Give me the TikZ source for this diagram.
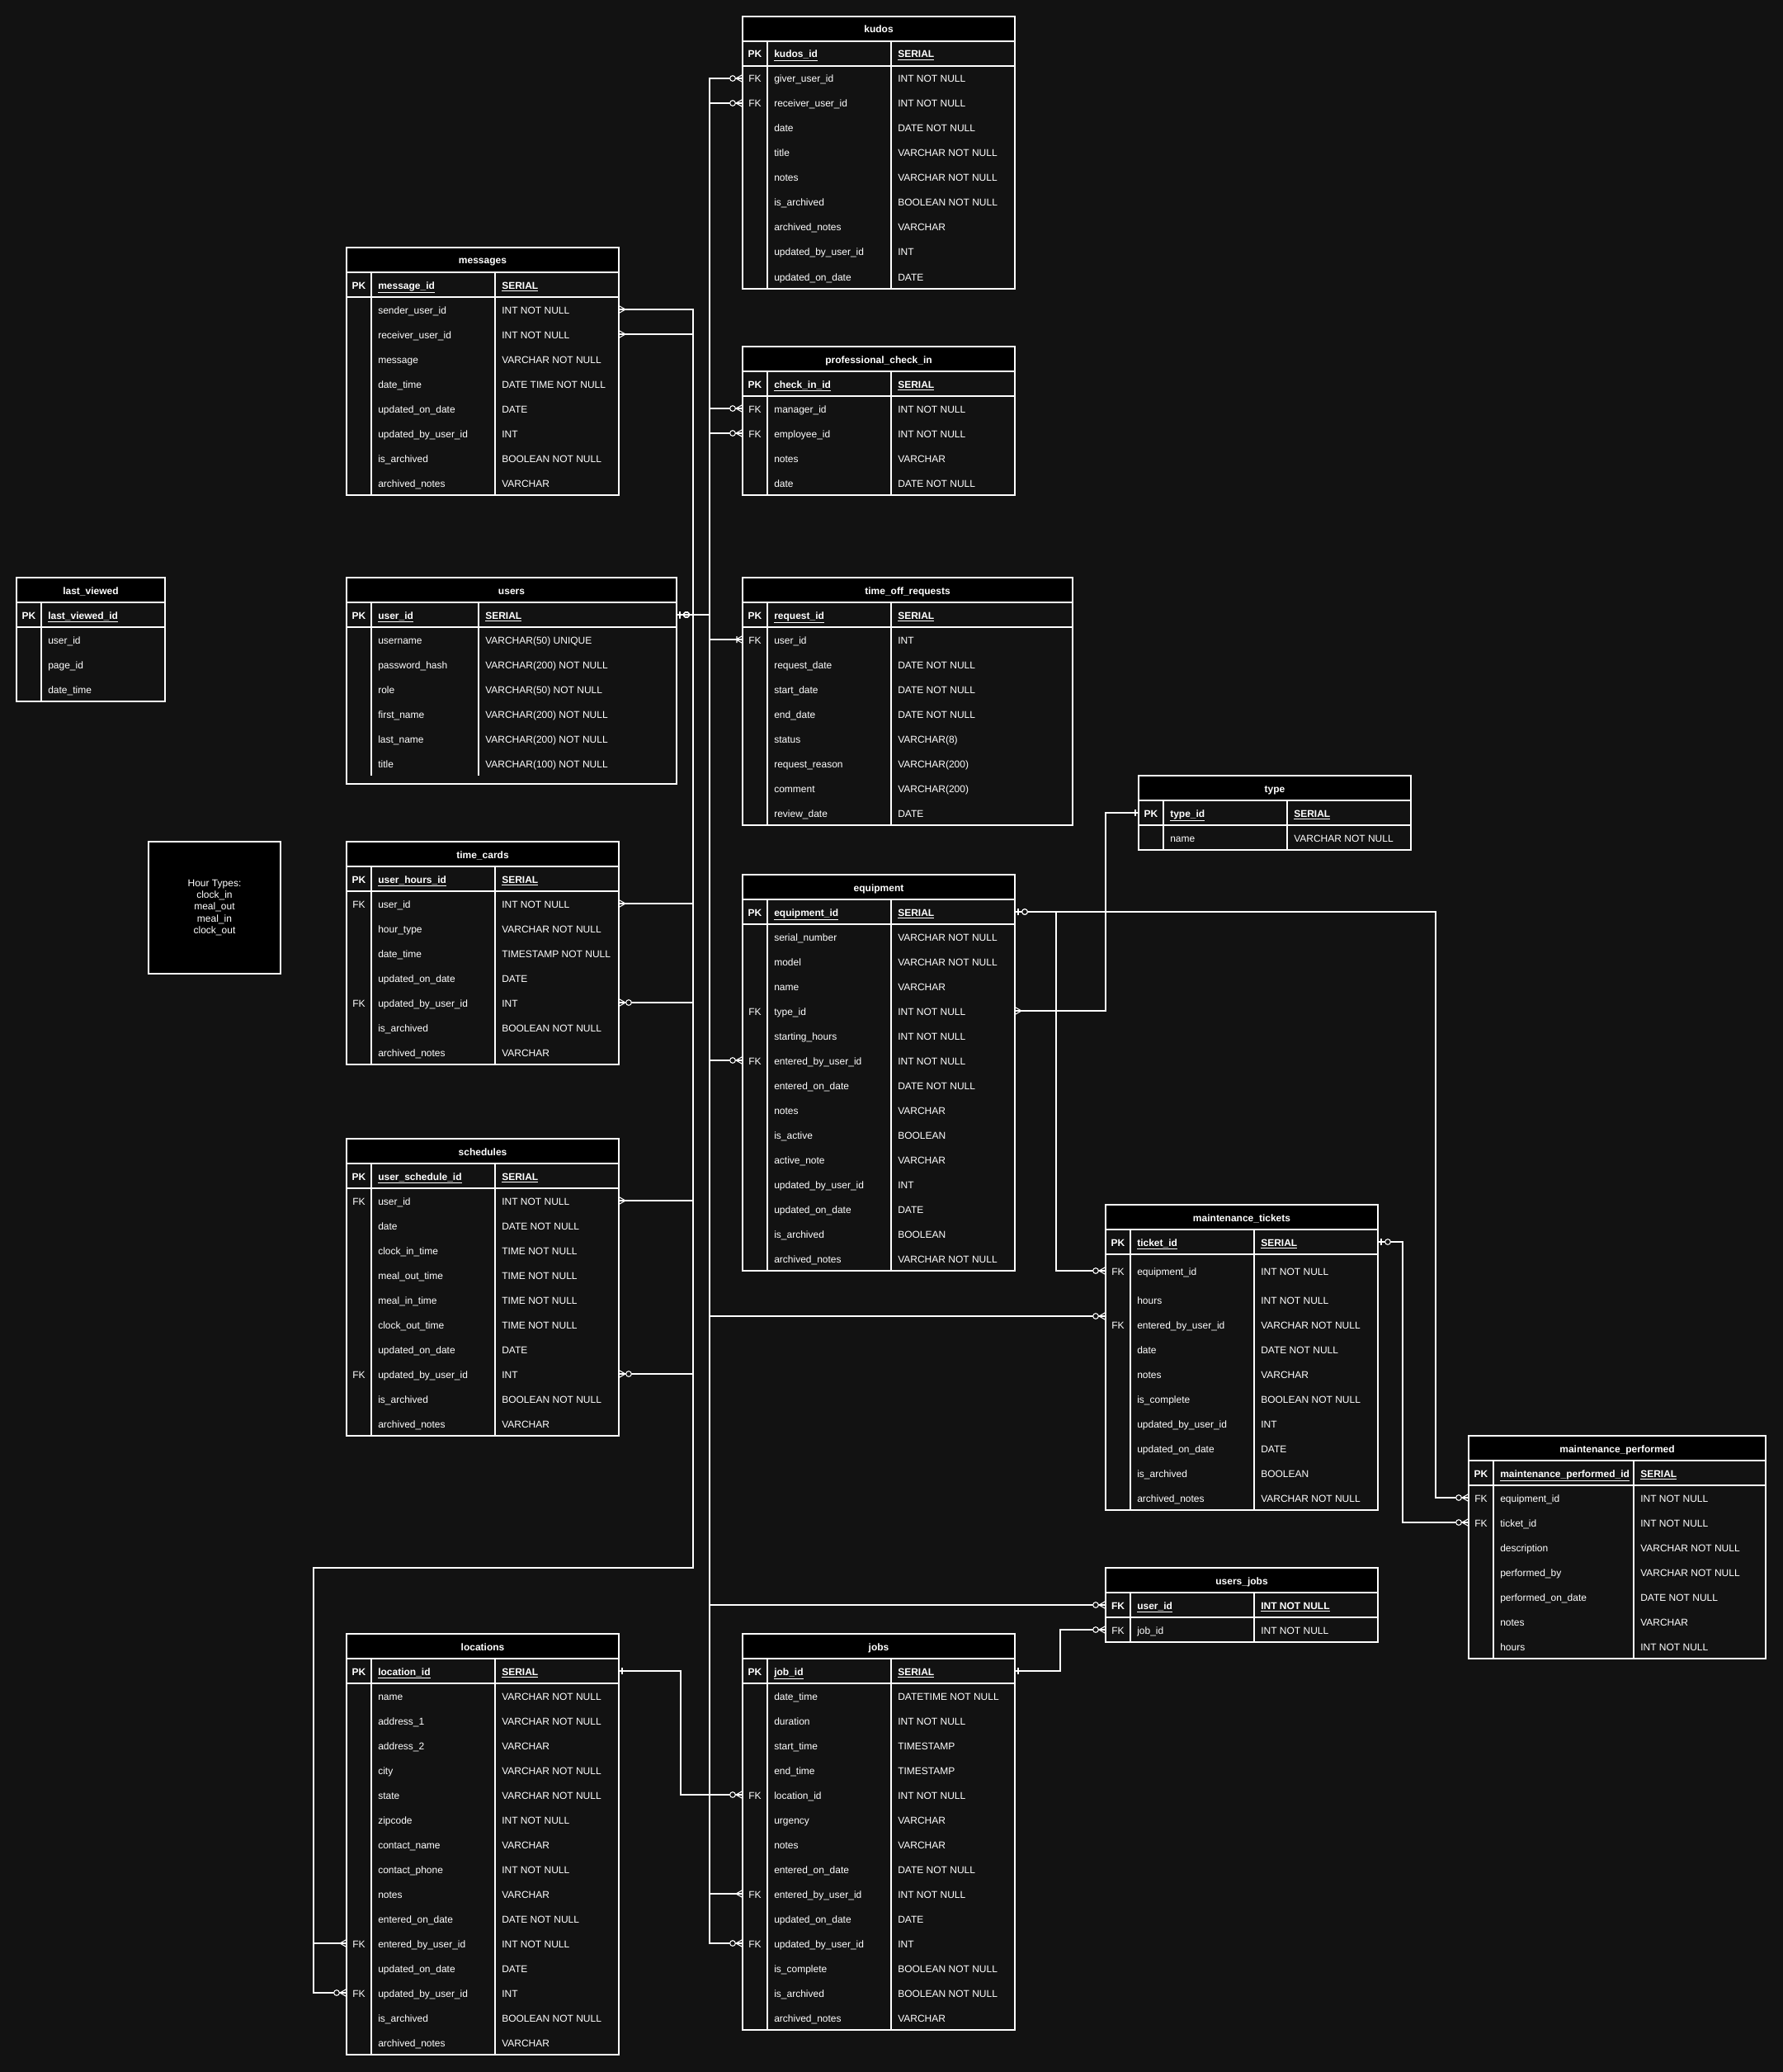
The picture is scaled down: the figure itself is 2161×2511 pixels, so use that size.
\documentclass[tikz,border=0pt]{standalone}
\usepackage{fontspec}
\setmainfont{Liberation Sans}
\usepackage{tikz}

\definecolor{bgc}{HTML}{121212}
\definecolor{ink}{HTML}{FFFFFF}

% ER line ends, the tip sits on the table border
\pgfdeclarearrow{
  name = ermany,
  setup code = {\pgfarrowssettipend{0pt}\pgfarrowssetlineend{0pt}\pgfarrowssetbackend{-6pt}
    \pgfarrowshullpoint{0pt}{3.4pt}\pgfarrowshullpoint{0pt}{-3.4pt}\pgfarrowshullpoint{-6pt}{0pt}},
  drawing code = {\pgfsetdash{}{0pt}\pgfsetroundjoin
    \pgfpathmoveto{\pgfqpoint{0pt}{3.4pt}}\pgfpathlineto{\pgfqpoint{-6pt}{0pt}}\pgfpathlineto{\pgfqpoint{0pt}{-3.4pt}}
    \pgfusepathqstroke}
}
\pgfdeclarearrow{
  name = erzmany,
  setup code = {\pgfarrowssettipend{0pt}\pgfarrowssetlineend{0pt}\pgfarrowssetbackend{-11.5pt}
    \pgfarrowshullpoint{0pt}{3.4pt}\pgfarrowshullpoint{0pt}{-3.4pt}\pgfarrowshullpoint{-11.5pt}{0pt}},
  drawing code = {\pgfsetdash{}{0pt}\pgfsetroundjoin
    \pgfpathmoveto{\pgfqpoint{0pt}{3.4pt}}\pgfpathlineto{\pgfqpoint{-6pt}{0pt}}\pgfpathlineto{\pgfqpoint{0pt}{-3.4pt}}
    \pgfusepathqstroke
    \pgfpathcircle{\pgfqpoint{-9pt}{0pt}}{2.5pt}\pgfsetfillcolor{bgc}\pgfusepathqfillstroke}
}
\pgfdeclarearrow{
  name = eronemany,
  setup code = {\pgfarrowssettipend{0pt}\pgfarrowssetlineend{0pt}\pgfarrowssetbackend{-6pt}
    \pgfarrowshullpoint{0pt}{3.4pt}\pgfarrowshullpoint{0pt}{-3.4pt}\pgfarrowshullpoint{-6pt}{0pt}},
  drawing code = {\pgfsetdash{}{0pt}\pgfsetroundjoin
    \pgfpathmoveto{\pgfqpoint{0pt}{3.4pt}}\pgfpathlineto{\pgfqpoint{-6pt}{0pt}}\pgfpathlineto{\pgfqpoint{0pt}{-3.4pt}}
    \pgfpathmoveto{\pgfqpoint{-5.25pt}{3pt}}\pgfpathlineto{\pgfqpoint{-5.25pt}{-3pt}}
    \pgfusepathqstroke}
}
\pgfdeclarearrow{
  name = erone,
  setup code = {\pgfarrowssettipend{0pt}\pgfarrowssetlineend{0pt}\pgfarrowssetbackend{-3pt}
    \pgfarrowshullpoint{0pt}{3pt}\pgfarrowshullpoint{-3pt}{-3pt}},
  drawing code = {\pgfsetdash{}{0pt}
    \pgfpathmoveto{\pgfqpoint{-3pt}{3pt}}\pgfpathlineto{\pgfqpoint{-3pt}{-3pt}}
    \pgfusepathqstroke}
}
\pgfdeclarearrow{
  name = erzone,
  setup code = {\pgfarrowssettipend{0pt}\pgfarrowssetlineend{0pt}\pgfarrowssetbackend{-11.5pt}
    \pgfarrowshullpoint{0pt}{3pt}\pgfarrowshullpoint{-11.5pt}{-3pt}},
  drawing code = {\pgfsetdash{}{0pt}
    \pgfpathmoveto{\pgfqpoint{-3pt}{3pt}}\pgfpathlineto{\pgfqpoint{-3pt}{-3pt}}
    \pgfusepathqstroke
    \pgfpathcircle{\pgfqpoint{-9pt}{0pt}}{2.5pt}\pgfsetfillcolor{bgc}\pgfusepathqfillstroke}
}
\pgfdeclarearrow{
  name = erzonex,
  setup code = {\pgfarrowssettipend{0pt}\pgfarrowssetlineend{0pt}\pgfarrowssetbackend{-11.5pt}
    \pgfarrowshullpoint{0pt}{3pt}\pgfarrowshullpoint{-11.5pt}{-3pt}},
  drawing code = {\pgfsetdash{}{0pt}
    \pgfpathmoveto{\pgfqpoint{-3pt}{3pt}}\pgfpathlineto{\pgfqpoint{-3pt}{-3pt}}
    \pgfpathcircle{\pgfqpoint{-9pt}{0pt}}{2.5pt}
    \pgfusepathqstroke}
}

\tikzset{er/.cd, gap/.store in=\ergap, pad/.store in=\erpad, gap=0, pad=0}
\tikzset{
  tabline/.style={ink, line width=0.8pt},
  tabtitle/.style={anchor=base, inner sep=0pt, font=\fontsize{9}{10.8}\selectfont\bfseries},
  tabrow/.style={inner sep=0pt, outer sep=0pt},
  keytext/.style={anchor=base, inner sep=0pt},
  celltext/.style={anchor=base west, inner sep=0pt},
  link/.style={ink, line width=0.8pt},
  notebox/.style={draw=ink, fill=black, line width=0.8pt, minimum size=120pt, inner sep=0pt, align=center}
}

% \ertable[gap/pad]{id}{x}{y}{name col}{type col}{title}{key/name/type rows}
\newcommand{\ertable}[8][]{%
  \tikzset{er/.cd, gap=0, pad=0, #1}%
  \pgfmathsetmacro\erw{30+#5+#6}%
  \fill[black] (#3,#4) rectangle ++(\erw,30);
  \node[tabtitle] (#2) at (#3+\erw/2,#4+20) {#7};
  \foreach \ky/\nm/\ty [count=\i from 0] in {#8} {
    \pgfmathsetmacro\ry{#4+45+30*\i+(\i>0)*\ergap-(\i==1)*\ergap/2}
    \pgfmathsetmacro\rh{30+(\i==1)*\ergap}
    \node[tabrow, minimum width=\erw*0.75pt, minimum height=\rh*0.75pt] (#2-\i) at (#3+\erw/2,\ry) {};
    \node[keytext] (#2-k\i) at (#3+15,\ry+5) {\ifnum\i=0 \bfseries\fi\ky};
    \node[celltext] (#2-n\i) at (#3+38,\ry+5) {\ifnum\i=0 \underline{\textbf{\nm}}\else\nm\fi};
    \node[celltext] (#2-t\i) at (#3+38+#5,\ry+5) {\ifnum\i=0 \underline{\textbf{\ty}}\else\ty\fi};
    \xdef\ern{\i}
  }
  \pgfmathsetmacro\erb{#4+60+30*\ern+\ergap}
  \draw[tabline] (#3,#4) rectangle (#3+\erw,\erb+\erpad);
  \draw[tabline] (#3,#4+30) -- ++(\erw,0) (#3,#4+60) -- ++(\erw,0);
  \draw[tabline] (#3+30,#4+30) -- (#3+30,\erb);
  \ifdim#6pt>0pt \draw[tabline] (#3+30+#5,#4+30) -- (#3+30+#5,\erb);\fi
}

\begin{document}
\begin{tikzpicture}[x=0.75pt, y=-0.75pt,
  every node/.append style={font=\fontsize{9}{10.8}\selectfont, text=ink}]

\fill[bgc] (0,0) rectangle (2161,2511);

% tables
\ertable{kudos}{900}{20}{150}{150}{kudos}{PK/kudos\_id/SERIAL,
  FK/giver\_user\_id/INT NOT NULL, FK/receiver\_user\_id/INT NOT NULL, /date/DATE NOT NULL,
  /title/VARCHAR NOT NULL, /notes/VARCHAR NOT NULL, /is\_archived/BOOLEAN NOT NULL,
  /archived\_notes/VARCHAR, /updated\_by\_user\_id/INT, /updated\_on\_date/DATE}

\ertable{messages}{420}{300}{150}{150}{messages}{PK/message\_id/SERIAL,
  /sender\_user\_id/INT NOT NULL, /receiver\_user\_id/INT NOT NULL, /message/VARCHAR NOT NULL,
  /date\_time/DATE TIME NOT NULL, /updated\_on\_date/DATE, /updated\_by\_user\_id/INT,
  /is\_archived/BOOLEAN NOT NULL, /archived\_notes/VARCHAR}

\ertable{checkin}{900}{420}{150}{150}{professional\_check\_in}{PK/check\_in\_id/SERIAL,
  FK/manager\_id/INT NOT NULL, FK/employee\_id/INT NOT NULL, /notes/VARCHAR, /date/DATE NOT NULL}

\ertable{lastviewed}{20}{700}{150}{0}{last\_viewed}{PK/last\_viewed\_id/,
  /user\_id/, /page\_id/, /date\_time/}

\ertable[pad=10]{users}{420}{700}{130}{240}{users}{PK/user\_id/SERIAL,
  /username/VARCHAR(50) UNIQUE, /password\_hash/VARCHAR(200) NOT NULL, /role/VARCHAR(50) NOT NULL,
  /first\_name/VARCHAR(200) NOT NULL, /last\_name/VARCHAR(200) NOT NULL, /title/VARCHAR(100) NOT NULL}

\ertable{timeoff}{900}{700}{150}{220}{time\_off\_requests}{PK/request\_id/SERIAL,
  FK/user\_id/INT, /request\_date/DATE NOT NULL, /start\_date/DATE NOT NULL, /end\_date/DATE NOT NULL,
  /status/VARCHAR(8), /request\_reason/VARCHAR(200), /comment/VARCHAR(200), /review\_date/DATE}

\ertable{type}{1380}{940}{150}{150}{type}{PK/type\_id/SERIAL, /name/VARCHAR NOT NULL}

\node[notebox] (hourtypes) at (260,1100) {Hour Types:\\clock\_in\\meal\_out\\meal\_in\\clock\_out};

\ertable{timecards}{420}{1020}{150}{150}{time\_cards}{PK/user\_hours\_id/SERIAL,
  FK/user\_id/INT NOT NULL, /hour\_type/VARCHAR NOT NULL, /date\_time/TIMESTAMP NOT NULL,
  /updated\_on\_date/DATE, FK/updated\_by\_user\_id/INT, /is\_archived/BOOLEAN NOT NULL,
  /archived\_notes/VARCHAR}

\ertable{equipment}{900}{1060}{150}{150}{equipment}{PK/equipment\_id/SERIAL,
  /serial\_number/VARCHAR NOT NULL, /model/VARCHAR NOT NULL, /name/VARCHAR, FK/type\_id/INT NOT NULL,
  /starting\_hours/INT NOT NULL, FK/entered\_by\_user\_id/INT NOT NULL, /entered\_on\_date/DATE NOT NULL,
  /notes/VARCHAR, /is\_active/BOOLEAN, /active\_note/VARCHAR, /updated\_by\_user\_id/INT,
  /updated\_on\_date/DATE, /is\_archived/BOOLEAN, /archived\_notes/VARCHAR NOT NULL}

\ertable{schedules}{420}{1380}{150}{150}{schedules}{PK/user\_schedule\_id/SERIAL,
  FK/user\_id/INT NOT NULL, /date/DATE NOT NULL, /clock\_in\_time/TIME NOT NULL,
  /meal\_out\_time/TIME NOT NULL, /meal\_in\_time/TIME NOT NULL, /clock\_out\_time/TIME NOT NULL,
  /updated\_on\_date/DATE, FK/updated\_by\_user\_id/INT, /is\_archived/BOOLEAN NOT NULL,
  /archived\_notes/VARCHAR}

\ertable[gap=10]{tickets}{1340}{1460}{150}{150}{maintenance\_tickets}{PK/ticket\_id/SERIAL,
  FK/equipment\_id/INT NOT NULL, /hours/INT NOT NULL, FK/entered\_by\_user\_id/VARCHAR NOT NULL,
  /date/DATE NOT NULL, /notes/VARCHAR, /is\_complete/BOOLEAN NOT NULL, /updated\_by\_user\_id/INT,
  /updated\_on\_date/DATE, /is\_archived/BOOLEAN, /archived\_notes/VARCHAR NOT NULL}

\ertable{performed}{1780}{1740}{170}{160}{maintenance\_performed}{PK/maintenance\_performed\_id/SERIAL,
  FK/equipment\_id/INT NOT NULL, FK/ticket\_id/INT NOT NULL, /description/VARCHAR NOT NULL,
  /performed\_by/VARCHAR NOT NULL, /performed\_on\_date/DATE NOT NULL, /notes/VARCHAR,
  /hours/INT NOT NULL}

\ertable{usersjobs}{1340}{1900}{150}{150}{users\_jobs}{FK/user\_id/INT NOT NULL, FK/job\_id/INT NOT NULL}

\ertable{locations}{420}{1980}{150}{150}{locations}{PK/location\_id/SERIAL,
  /name/VARCHAR NOT NULL, /address\_1/VARCHAR NOT NULL, /address\_2/VARCHAR, /city/VARCHAR NOT NULL,
  /state/VARCHAR NOT NULL, /zipcode/INT NOT NULL, /contact\_name/VARCHAR, /contact\_phone/INT NOT NULL,
  /notes/VARCHAR, /entered\_on\_date/DATE NOT NULL, FK/entered\_by\_user\_id/INT NOT NULL,
  /updated\_on\_date/DATE, FK/updated\_by\_user\_id/INT, /is\_archived/BOOLEAN NOT NULL,
  /archived\_notes/VARCHAR}

\ertable{jobs}{900}{1980}{150}{150}{jobs}{PK/job\_id/SERIAL,
  /date\_time/DATETIME NOT NULL, /duration/INT NOT NULL, /start\_time/TIMESTAMP, /end\_time/TIMESTAMP,
  FK/location\_id/INT NOT NULL, /urgency/VARCHAR, /notes/VARCHAR, /entered\_on\_date/DATE NOT NULL,
  FK/entered\_by\_user\_id/INT NOT NULL, /updated\_on\_date/DATE, FK/updated\_by\_user\_id/INT,
  /is\_complete/BOOLEAN NOT NULL, /is\_archived/BOOLEAN NOT NULL, /archived\_notes/VARCHAR}

% routing columns
\coordinate (busA) at (860,0);
\coordinate (busB) at (840,0);
\coordinate (turnB) at (840,1900);
\coordinate (turnL) at (380,1900);
\coordinate (locbus) at (825,0);
\coordinate (jobbus) at (1285,0);
\coordinate (typebus) at (1340,0);
\coordinate (eqbus) at (1280,0);
\coordinate (perfbus) at (1740,0);
\coordinate (tickbus) at (1700,0);

% users.user_id, right column
\draw[link, erzonex-erzmany] (users-0.east) -- (users-0.east -| busA) |- (kudos-1.west);
\draw[link, erzonex-erzmany] (users-0.east) -- (users-0.east -| busA) |- (kudos-2.west);
\draw[link, erzonex-erzmany] (users-0.east) -- (users-0.east -| busA) |- (checkin-1.west);
\draw[link, erzonex-erzmany] (users-0.east) -- (users-0.east -| busA) |- (checkin-2.west);
\draw[link, erzonex-eronemany] (users-0.east) -- (users-0.east -| busA) |- (timeoff-1.west);
\draw[link, erzonex-erzmany] (users-0.east) -- (users-0.east -| busA) |- (equipment-6.west);
\draw[link, erzonex-erzmany] (users-0.east) -- (users-0.east -| busA) |- ([yshift=-3.75pt]tickets-3.north west);
\draw[link, erzonex-erzmany] (users-0.east) -- (users-0.east -| busA) |- (usersjobs-0.west);
\draw[link, erzonex-ermany] (users-0.east) -- (users-0.east -| busA) |- (jobs-9.west);
\draw[link, erzonex-erzmany] (users-0.east) -- (users-0.east -| busA) |- (jobs-11.west);

% users.user_id, left column
\draw[link, erzonex-ermany] (users-0.east) -- (users-0.east -| busB) |- (messages-1.east);
\draw[link, erzonex-ermany] (users-0.east) -- (users-0.east -| busB) |- (messages-2.east);
\draw[link, erzonex-ermany] (users-0.east) -- (users-0.east -| busB) |- (timecards-1.east);
\draw[link, erzonex-erzmany] (users-0.east) -- (users-0.east -| busB) |- (timecards-5.east);
\draw[link, erzonex-ermany] (users-0.east) -- (users-0.east -| busB) |- (schedules-1.east);
\draw[link, erzonex-erzmany] (users-0.east) -- (users-0.east -| busB) |- (schedules-8.east);
\draw[link, erzonex-ermany] (users-0.east) -| (turnB) -- (turnL) |- (locations-11.west);
\draw[link, erzonex-erzmany] (users-0.east) -| (turnB) -- (turnL) |- (locations-13.west);

% other keys
\draw[link, erzone-erzmany] (equipment-0.east) -- (equipment-0.east -| eqbus) |- (tickets-1.west);
\draw[link, erzone-erzmany] (equipment-0.east) -- (equipment-0.east -| perfbus) |- (performed-1.west);
\draw[link, ermany-erone] (equipment-4.east) -- (equipment-4.east -| typebus) |- (type-0.west);
\draw[link, erzone-erzmany] (tickets-0.east) -- (tickets-0.east -| tickbus) |- (performed-2.west);
\draw[link, erone-erzmany] (locations-0.east) -- (locations-0.east -| locbus) |- (jobs-5.west);
\draw[link, erone-erzmany] (jobs-0.east) -- (jobs-0.east -| jobbus) |- (usersjobs-1.west);

\end{tikzpicture}
\end{document}
